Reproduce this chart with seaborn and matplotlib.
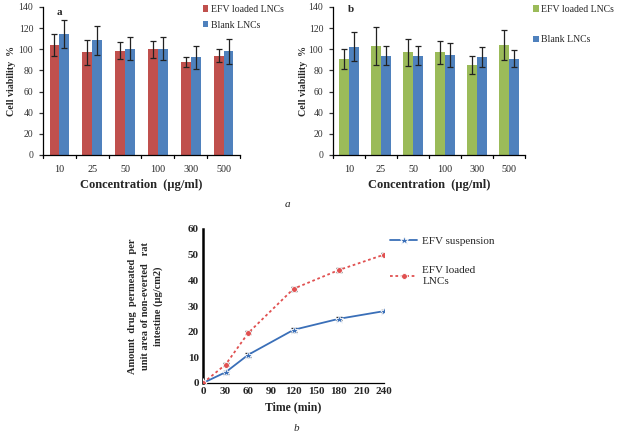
import numpy as np
import pandas as pd
import matplotlib
matplotlib.use("Agg")
import matplotlib.pyplot as plt
import seaborn as sns

sns.set_theme(style="white")
plt.rcParams['font.family'] = ['Liberation Serif', 'DejaVu Serif']

concentrations = ["10", "25", "50", "100", "300", "500"]
# Panel a
a_loaded = [104, 97, 98.5, 100, 88, 94]
a_loaded_err = [10, 12, 8, 8, 5, 6]
a_blank = [114.5, 108.5, 100.5, 100.5, 92.5, 98]
a_blank_err = [13.5, 14, 11, 11, 11, 12]
# Panel b
b_loaded = [91, 103.5, 97, 97, 85.5, 104]
b_loaded_err = [9.5, 18, 12.5, 10.5, 8.5, 14.5]
b_blank = [102.5, 94, 94, 94.5, 93, 91]
b_blank_err = [13.5, 9, 9, 11, 9.5, 8]
# Permeation
time_min = [0, 30, 60, 120, 180, 240]
susp = [0, 4.2, 11, 20.7, 25, 28]
susp_err = [0, 0.6, 0.8, 0.9, 0.6, 0.5]
lnc = [0, 7.2, 19.5, 36.7, 44, 50]
lnc_err = [0, 0.6, 0.6, 0.8, 0.8, 0.5]

W, H = 628, 438
fig = plt.figure(figsize=(W / 100, H / 100), dpi=100)


def frac(x0, y0, x1, y1):
    return [x0 / W, 1 - y1 / H, (x1 - x0) / W, (y1 - y0) / H]


def bar_panel(ax, loaded, loaded_err, blank, blank_err, c_loaded, letter, letter_xy,
              leg_pos, leg_gap, ylab_x):
    df = pd.DataFrame({
        "conc": concentrations * 2,
        "val": loaded + blank,
        "err": loaded_err + blank_err,
        "grp": ["EFV loaded LNCs"] * 6 + ["Blank LNCs"] * 6,
    })
    sns.barplot(data=df, x="conc", y="val", hue="grp", ax=ax,
                palette=[c_loaded, "#4F81BD"], width=0.6, errorbar=None,
                edgecolor="none", saturation=1, legend=True)
    bars = [p for p in ax.patches if p.get_height() > 0]
    vals = df["val"].tolist()
    errs = df["err"].tolist()
    used = set()
    for p in bars:
        cx = p.get_x() + p.get_width() / 2
        h = p.get_height()
        idx = None
        for i, v in enumerate(vals):
            if i not in used and abs(v - h) < 1e-6:
                idx = i
                break
        if idx is None:
            continue
        used.add(idx)
        ax.errorbar(cx, h, yerr=errs[idx], fmt="none", ecolor="#222222",
                    elinewidth=0.9, capsize=2.5, capthick=0.9)
    ax.set_ylim(0, 140)
    ax.set_yticks(range(0, 141, 20))
    ax.set_xlim(-0.5, 5.5)
    ax.set_xticks(range(6))
    ax.set_xticklabels(concentrations)
    ax.tick_params(axis="x", labelsize=7.3, length=0, pad=7)
    ax.tick_params(axis="y", labelsize=7, length=3, width=0.9, direction="out",
                   left=True, colors="#333333", pad=4)
    for xb in np.arange(-0.5, 6, 1):
        ax.plot([xb, xb], [0, -2.5], color="black", lw=0.9, clip_on=False)
    for s in ["top", "right"]:
        ax.spines[s].set_visible(False)
    for s in ["left", "bottom"]:
        ax.spines[s].set_color("black")
        ax.spines[s].set_linewidth(0.9)
    ax.set_xlabel("Concentration  (\u03bcg/ml)", fontsize=9, fontweight="bold", labelpad=4)
    ax.set_ylabel("Cell viability  %", fontsize=7.2, fontweight="bold")
    ax.yaxis.set_label_coords(ylab_x, 0.5)
    ax.text(letter_xy[0], letter_xy[1], letter, fontsize=8, fontweight="bold",
            transform=ax.transData, ha="center")
    ax.legend(loc="upper left", bbox_to_anchor=leg_pos, frameon=False,
              fontsize=7, handlelength=0.6, handleheight=0.6,
              handletextpad=0.3, labelspacing=leg_gap, borderaxespad=0)


ax1 = fig.add_axes(frac(43, 7, 240, 155))
bar_panel(ax1, a_loaded, a_loaded_err, a_blank, a_blank_err, "#C0504D", "a",
          (0.0, 132), (0.79, 1.04), 0.7, -0.135)

ax2 = fig.add_axes(frac(333, 7, 525, 155))
bar_panel(ax2, b_loaded, b_loaded_err, b_blank, b_blank_err, "#9BBB59", "b",
          (0.05, 135), (1.02, 1.04), 2.2, -0.13)

fig.text(287 / W, 1 - 207 / H, "a", fontsize=8, style="italic", ha="center")

# Line chart
ax3 = fig.add_axes(frac(203, 229, 384, 383))
dfl = pd.DataFrame({
    "t": time_min * 2,
    "v": susp + lnc,
    "s": ["EFV suspension"] * 6 + ["EFV loaded\nLNCs"] * 6,
})
sns.lineplot(data=dfl, x="t", y="v", hue="s", style="s", ax=ax3,
             palette=["#3A6FB8", "#E05050"], dashes=[(None, None), (1.5, 1.5)],
             markers=["*", "o"], markersize=6, markeredgewidth=0.6, lw=1.3,
             zorder=3, legend=False)
for ln in ax3.get_lines():
    if ln.get_marker() == "o":
        ln.set_markersize(4.2)
    elif ln.get_marker() == "*":
        ln.set_markersize(6.5)
ax3.errorbar(time_min, susp, yerr=susp_err, fmt="none", ecolor="#333333",
             elinewidth=0.8, capsize=2, zorder=2)
ax3.errorbar(time_min, lnc, yerr=lnc_err, fmt="none", ecolor="#333333",
             elinewidth=0.8, capsize=2, zorder=2)
ax3.set_xlim(0, 240)
ax3.set_ylim(0, 60)
ax3.set_xticks(range(0, 241, 30))
ax3.set_yticks(range(0, 61, 10))
for lab in ax3.get_xticklabels() + ax3.get_yticklabels():
    lab.set_fontweight("bold")
ax3.tick_params(axis="both", labelsize=8, length=0, pad=3)
for s in ["top", "right"]:
    ax3.spines[s].set_visible(False)
ax3.spines["left"].set_color("black")
ax3.spines["left"].set_linewidth(1.8)
ax3.spines["bottom"].set_color("black")
ax3.spines["bottom"].set_linewidth(0.9)
ax3.set_xlabel("Time (min)", fontsize=8.5, fontweight="bold", labelpad=4)
ax3.set_ylabel("Amount  drug  permeated  per\nunit area of non-everted   rat\nintestine (\u03bcg/cm2)",
               fontsize=7.5, fontweight="bold", linespacing=1.5)
ax3.yaxis.set_label_coords(-0.22, 0.5)
lines = [ln for ln in ax3.get_lines() if ln.get_marker() in ("*", "o")]
ax3.legend(lines[:2], ["EFV suspension", "EFV loaded\nLNCs"],
           loc="upper left", bbox_to_anchor=(1.01, 0.98), frameon=False,
           fontsize=8, handlelength=2.4, labelspacing=1.8, borderaxespad=0,
           handletextpad=0.5)
fig.text(296 / W, 1 - 431 / H, "b", fontsize=8, style="italic", ha="center")

fig.savefig("out.png", dpi=100, facecolor="white")
